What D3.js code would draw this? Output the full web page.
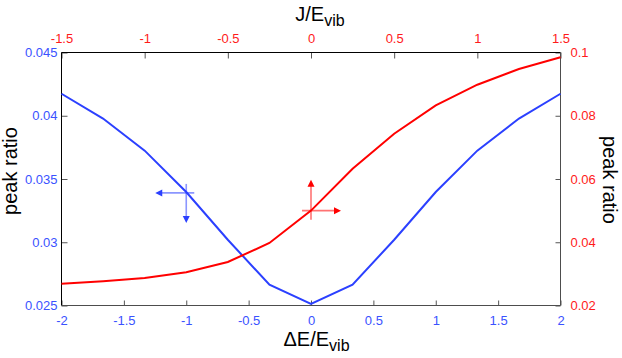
<!DOCTYPE html>
<html><head><meta charset="utf-8">
<script src="https://cdn.jsdelivr.net/npm/d3@7"></script>
<style>
html,body{margin:0;padding:0;background:#fff;}
svg{display:block;font-family:"Liberation Sans",Arial,sans-serif;}
</style></head>
<body><svg id="c" width="622" height="358"></svg>
<script>
// ---- data ----
const dE = [-2, -1.667, -1.333, -1, -0.667, -0.333, 0, 0.333, 0.667, 1, 1.333, 1.667, 2];
const blueRatio = [0.04174, 0.03978, 0.03724, 0.03397, 0.0302, 0.02664, 0.02512, 0.02664, 0.0302, 0.03397, 0.03724, 0.03978, 0.04174];
const J = [-1.5, -1.25, -1, -0.75, -0.5, -0.25, 0, 0.25, 0.5, 0.75, 1, 1.25, 1.5];
const redRatio = [0.02689, 0.02765, 0.0287, 0.0305, 0.03376, 0.03976, 0.05, 0.06326, 0.07433, 0.0833, 0.08982, 0.09478, 0.09848];
const bottomTicks = [-2, -1.5, -1, -0.5, 0, 0.5, 1, 1.5, 2];
const topTicks = [-1.5, -1, -0.5, 0, 0.5, 1, 1.5];
const leftTicks = [0.025, 0.03, 0.035, 0.04, 0.045];
const rightTicks = [0.02, 0.04, 0.06, 0.08, 0.1];
const blueMarker = [-1, 0.0339];
const redMarker = [0, 0.05];

const BLUE = "#2b40ff", BLUE_T = "#3a52ff", RED = "#ff0000", RED_T = "#ff1a1a";
const L = 61.5, R = 560.5, T = 52.5, B = 305.5;

const svg = d3.select("#c");
const x = d3.scaleLinear().domain([-2, 2]).range([L, R]);
const xT = d3.scaleLinear().domain([-1.5, 1.5]).range([L, R]);
const yL = d3.scaleLinear().domain([0.025, 0.045]).range([B, T]);
const yR = d3.scaleLinear().domain([0.02, 0.1]).range([B, T]);

const fmt = d => String(d);

function styleAxis(g, color) {
  g.select(".domain").remove();
  g.selectAll(".tick line").attr("stroke", "#555").attr("stroke-width", 1);
  g.selectAll(".tick text").attr("fill", color).attr("font-size", 13)
    .attr("font-family", '"Liberation Sans",Arial,sans-serif');
}

svg.append("g").attr("transform", `translate(0,${B})`)
  .call(d3.axisBottom(x).tickValues(bottomTicks).tickFormat(fmt).tickSizeInner(-5).tickSizeOuter(0).tickPadding(10))
  .call(g => styleAxis(g, BLUE_T));
svg.append("g").attr("transform", `translate(0,${T})`)
  .call(d3.axisTop(xT).tickValues(topTicks).tickFormat(fmt).tickSizeInner(-6).tickSizeOuter(0).tickPadding(10))
  .call(g => styleAxis(g, RED_T));
svg.append("g").attr("transform", `translate(${L},0)`)
  .call(d3.axisLeft(yL).tickValues(leftTicks).tickFormat(fmt).tickSizeInner(-6).tickSizeOuter(0).tickPadding(4))
  .call(g => styleAxis(g, BLUE_T));
svg.append("g").attr("transform", `translate(${R},0)`)
  .call(d3.axisRight(yR).tickValues(rightTicks).tickFormat(fmt).tickSizeInner(-5).tickSizeOuter(0).tickPadding(10))
  .call(g => styleAxis(g, RED_T));

// frame
svg.append("line").attr("x1", L).attr("x2", R).attr("y1", T).attr("y2", T).attr("stroke", "#000");
svg.append("line").attr("x1", L).attr("x2", L).attr("y1", T).attr("y2", B).attr("stroke", "#000");
svg.append("line").attr("x1", L).attr("x2", R).attr("y1", B).attr("y2", B).attr("stroke", "#4d4d4d");
svg.append("line").attr("x1", R).attr("x2", R).attr("y1", T).attr("y2", B).attr("stroke", "#4d4d4d");

// lines
svg.append("path").datum(dE.map((d, i) => [d, blueRatio[i]]))
  .attr("fill", "none").attr("stroke", BLUE).attr("stroke-width", 2)
  .attr("d", d3.line().x(d => x(d[0])).y(d => yL(d[1])));
svg.append("path").datum(J.map((d, i) => [d, redRatio[i]]))
  .attr("fill", "none").attr("stroke", RED).attr("stroke-width", 2)
  .attr("d", d3.line().x(d => xT(d[0])).y(d => yR(d[1])));

// arrows
function arrow(x1, y1, x2, y2, color) {
  const dx = x2 - x1, dy = y2 - y1, len = Math.hypot(dx, dy);
  const ux = dx / len, uy = dy / len, hl = 7, hw = 3.5;
  svg.append("line").attr("x1", x1).attr("y1", y1).attr("x2", x2 - ux * hl * 0.6).attr("y2", y2 - uy * hl * 0.6)
    .attr("stroke", color).attr("stroke-width", 1.6).attr("stroke-opacity", 0.55);
  const bx = x2 - ux * hl, by = y2 - uy * hl;
  svg.append("path").attr("fill", color)
    .attr("d", `M${x2},${y2}L${bx - uy * hw},${by + ux * hw}L${bx + uy * hw},${by - ux * hw}Z`);
}
{
  const cx = x(blueMarker[0]), cy = yL(blueMarker[1]);
  arrow(cx + 8, cy, cx - 31, cy, BLUE);
  arrow(cx, cy - 9, cx, cy + 30, BLUE);
}
{
  const cx = xT(redMarker[0]), cy = yR(redMarker[1]);
  arrow(cx - 9, cy, cx + 30, cy, RED);
  arrow(cx, cy + 9, cx, cy - 31, RED);
}

// titles
function subLabel(tx, ty, main, sub) {
  const t = svg.append("text").attr("x", tx).attr("y", ty).attr("text-anchor", "middle")
    .attr("font-size", 20).attr("fill", "#000");
  t.append("tspan").text(main);
  t.append("tspan").attr("font-size", 16).attr("dy", 5).text(sub);
}
subLabel(320, 21, "J/E", "vib");
subLabel(316.5, 346, "\u0394E/E", "vib");

svg.append("text").attr("transform", "translate(17,171) rotate(-90)").attr("text-anchor", "middle")
  .attr("font-size", 20).attr("fill", "#000").text("peak ratio");
svg.append("text").attr("transform", "translate(603,180) rotate(90)").attr("text-anchor", "middle")
  .attr("font-size", 20).attr("fill", "#000").text("peak ratio");
</script></body></html>
